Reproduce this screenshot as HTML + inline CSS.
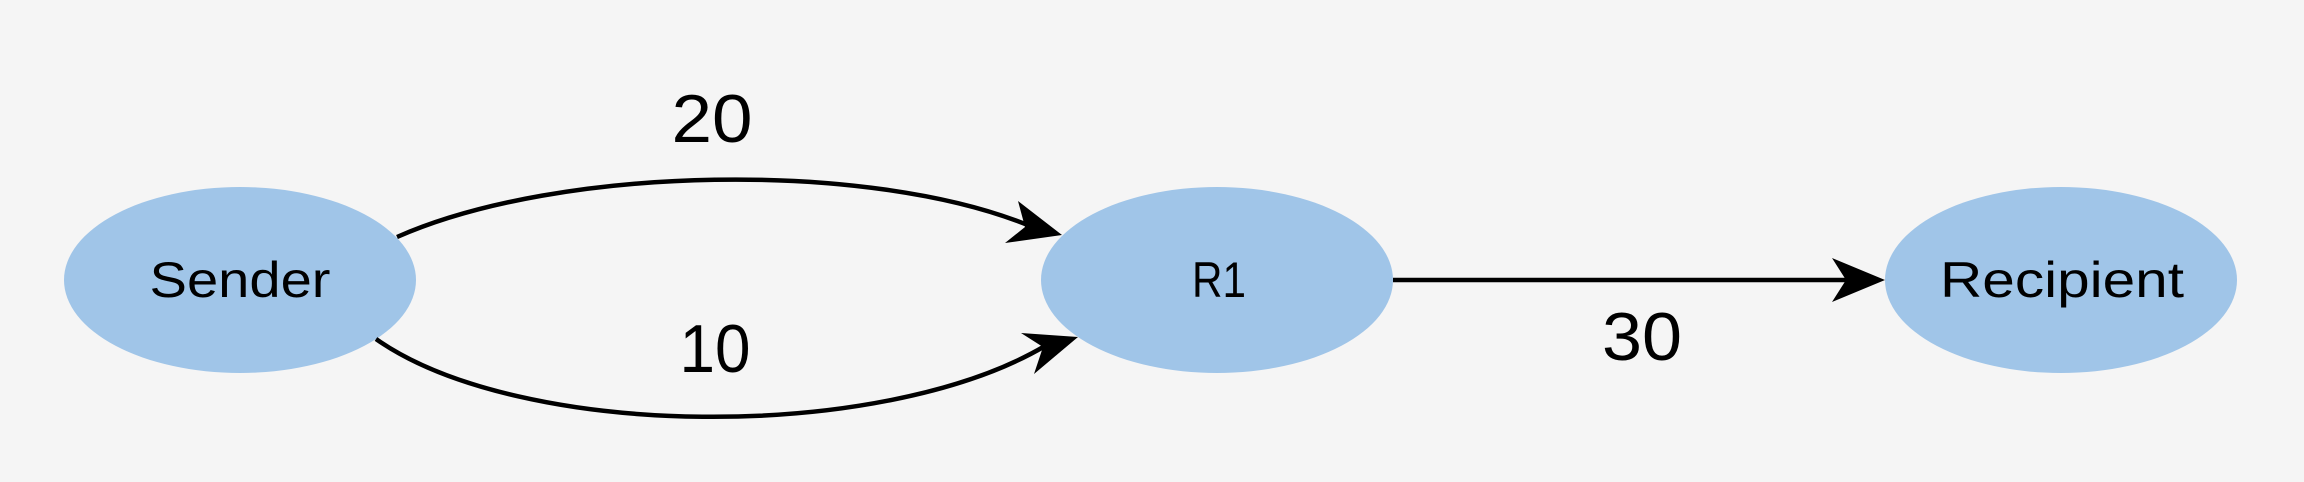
<!DOCTYPE html>
<html><head><style>html,body{margin:0;padding:0;background:#f5f5f5}svg{display:block}</style></head>
<body>
<svg width="2304" height="482" viewBox="0 0 2304 482" xmlns="http://www.w3.org/2000/svg">
<rect width="2304" height="482" fill="#f5f5f5"/>
<g fill="#a0c5e8">
<ellipse cx="240" cy="280" rx="176" ry="93"/>
<ellipse cx="1217" cy="280" rx="176" ry="93"/>
<ellipse cx="2061" cy="280" rx="176" ry="93"/>
</g>
<g fill="none" stroke="#000" stroke-width="4.5">
<path d="M397,237 C560,165 870,160 1030,226"/>
<path d="M376,339 C520,440 880,443 1045,346"/>
<path d="M1393,280 L1850,280"/>
</g>
<g fill="#000">
<polygon points="1062,235 1005,243 1025,227 1018,201"/>
<polygon points="1078,337 1021,333 1043,347 1034,374"/>
<polygon points="1885,280 1832,258 1846,280 1832,302"/>
</g>
<g font-family="Liberation Sans, sans-serif" fill="#000" text-anchor="middle">
<text x="240" y="297" font-size="50" textLength="181" lengthAdjust="spacingAndGlyphs">Sender</text>
<text x="1219" y="297" font-size="50" textLength="54" lengthAdjust="spacingAndGlyphs">R1</text>
<text x="2062" y="297" font-size="50" textLength="244" lengthAdjust="spacingAndGlyphs">Recipient</text>
<text x="712" y="142" font-size="68" textLength="81" lengthAdjust="spacingAndGlyphs">20</text>
<text x="715" y="372" font-size="68" textLength="71" lengthAdjust="spacingAndGlyphs">10</text>
<text x="1642" y="360" font-size="68" textLength="80" lengthAdjust="spacingAndGlyphs">30</text>
</g>
</svg>
</body></html>
